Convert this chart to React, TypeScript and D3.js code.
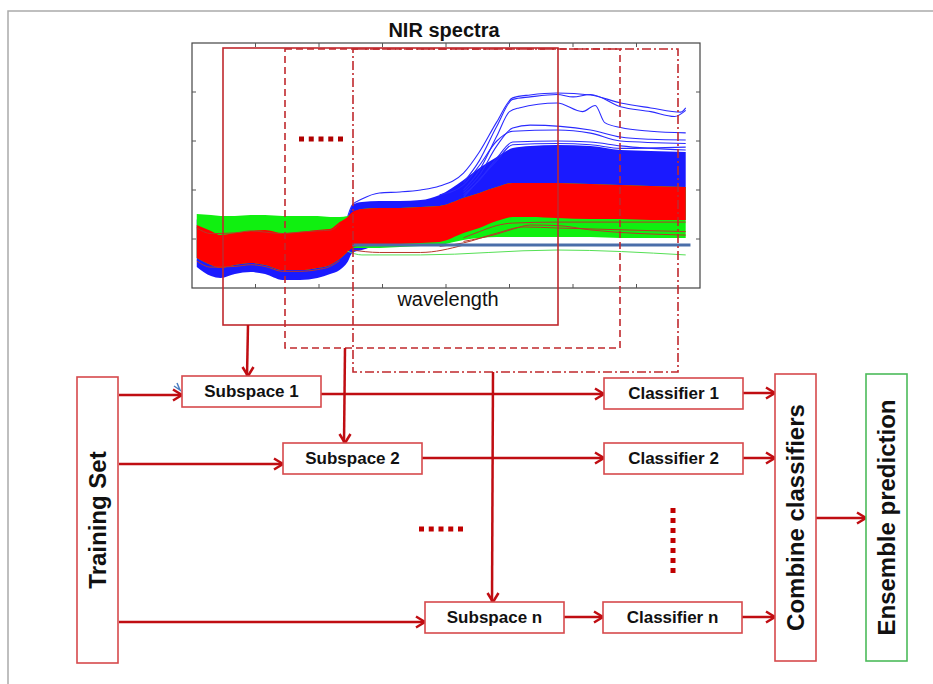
import React, { useEffect } from "react";
import * as d3 from "d3";

// NIR spectra: wavelength grid (nm) and band envelopes (absorbance)
const wavelengths = [1015, 1060, 1090, 1135, 1185, 1230, 1285, 1340, 1395, 1435, 1465, 1490, 1505, 1535,
  1590, 1655, 1720, 1780, 1855, 1905, 1960, 2010, 2065, 2150, 2255, 2350, 2445, 2555];

const redUpper = [.257, .233, .216, .224, .233, .237, .224, .229, .237, .241, .269, .290, .310, .322,
  .327, .327, .331, .335, .367, .388, .412, .429, .429, .429, .424, .420, .416, .412];
const redLower = [.122, .094, .082, .094, .102, .094, .073, .073, .082, .094, .118, .147, .163, .176,
  .176, .180, .184, .188, .224, .245, .273, .290, .290, .286, .282, .282, .278, .278];

const greenUpper = [.302, .298, .294, .294, .298, .298, .294, .294, .294, .290, .290, .294, .306, .322,
  .327, .327, .331, .335, .367, .388, .412, .429, .429, .429, .424, .420, .416, .412];
const greenLower = [.122, .094, .082, .094, .102, .094, .073, .073, .082, .094, .118, .147, .163, .163,
  .163, .167, .171, .176, .196, .204, .208, .208, .208, .208, .208, .204, .204, .204];

const blueUpper = [.28, .28, .28, .28, .28, .28, .28, .28, .28, .28, .28, .29, .339, .351,
  .355, .355, .359, .380, .441, .490, .535, .571, .580, .584, .580, .563, .559, .555];
const blueLower = [.086, .049, .041, .057, .065, .057, .033, .033, .041, .057, .073, .106, .143, .155,
  .176, .180, .184, .188, .224, .245, .273, .290, .290, .286, .282, .282, .278, .278];

// single spectra standing out of the bands: [wavelength, absorbance]
const blueCurves: [number, number][][] = [
  [[1490, .29], [1505, .339], [1535, .363], [1590, .388], [1655, .392], [1720, .400], [1780, .416], [1855, .469],
    [1905, .555], [1960, .678], [2010, .776], [2065, .788], [2150, .796], [2255, .788], [2350, .755], [2445, .735], [2540, .718], [2555, .735]],
  [[1855, .43], [1905, .52], [1960, .66], [2010, .77], [2065, .78], [2150, .79], [2200, .78], [2255, .79], [2350, .74], [2445, .72], [2520, .70], [2555, .725]],
  [[1855, .40], [1905, .48], [1960, .62], [2000, .72], [2030, .735], [2150, .755], [2230, .72], [2270, .745], [2300, .675], [2350, .655], [2445, .64], [2555, .633]],
  [[1855, .39], [1905, .46], [1960, .58], [2010, .653], [2065, .665], [2255, .645], [2350, .616], [2445, .607], [2555, .604]],
  [[1780, .38], [1855, .42], [1905, .50], [1960, .60], [2010, .64], [2150, .645], [2255, .632], [2350, .60], [2555, .59]],
  [[1855, .38], [1905, .44], [1960, .53], [2010, .596], [2150, .60], [2255, .596], [2350, .58], [2555, .563]],
  [[1855, .37], [1960, .52], [2010, .585], [2150, .59], [2255, .585], [2350, .57], [2555, .575]],
];
const redCurves: [number, number][][] = [
  [[1855, .205], [1905, .23], [1960, .255], [2010, .265], [2150, .269], [2555, .269]],
  [[1855, .19], [1960, .22], [2010, .24], [2065, .257], [2150, .255], [2255, .237], [2555, .216]],
  [[1780, .17], [1855, .184], [1960, .224], [2045, .249], [2150, .245], [2555, .23]],
  [[1505, .155], [1590, .145], [1720, .145], [1855, .175]],
  [[1015, .245], [1060, .222], [1135, .225], [1185, .233], [1230, .228], [1285, .222], [1340, .228], [1395, .233], [1435, .236], [1465, .262]],
  [[1015, .11], [1060, .085], [1135, .088], [1185, .095], [1230, .088], [1285, .068], [1340, .068], [1395, .075], [1435, .088], [1465, .112]],
];
const greenCurves: [number, number][][] = [
  [[1490, .15], [1535, .135], [1720, .135], [2150, .155], [2555, .135]],
];
const thresholdLine: [number, number][] = [[1505, .176], [2570, .176]];

const xTicks = [1200, 1400, 1600, 1800, 2000, 2200, 2400];
const yTicks = [0.2, 0.4, 0.6, 0.8];

const subspaceLabels = ["Subspace 1", "Subspace 2", "Subspace n"];
const classifierLabels = ["Classifier 1", "Classifier 2", "Classifier n"];

// layout
const W = 933, H = 684;
const plot = { left: 192, right: 700, top: 43, bottom: 288 };
const subBoxes = [{ x: 182, y: 376 }, { x: 283, y: 443 }, { x: 425, y: 602 }];
const clsBoxes = [{ x: 604, y: 378 }, { x: 604, y: 443 }, { x: 603, y: 602 }];
const BW = 139, BH = 31;
const trainBox = { x: 77, y: 377, w: 41, h: 286 };
const combineBox = { x: 775, y: 374, w: 41, h: 287 };
const ensembleBox = { x: 866, y: 374, w: 41, h: 287 };
const windows = [
  { x1: 223, y1: 48, x2: 558, y2: 325, dash: undefined, ax: 248 },
  { x1: 285, y1: 49, x2: 620, y2: 348, dash: "7,4", ax: 345 },
  { x1: 353, y1: 49, x2: 678, y2: 372, dash: "9,3,2,3", ax: 493 },
];
const trainY = [395, 464, 622];
const subY = [394, 458, 617];
const clsY = [393, 458, 617];

const FONT = "'Liberation Sans', Arial, sans-serif";
const ARROW = "#c00d12";
const BOX = "#d6494c";

function Arrow({ x1, y1, x2, y2 }: { x1: number; y1: number; x2: number; y2: number }) {
  const ang = (Math.atan2(y2 - y1, x2 - x1) * 180) / Math.PI;
  return (
    <g stroke={ARROW} strokeWidth={2.5} fill="none">
      <line x1={x1} y1={y1} x2={x2 - 1} y2={y2} />
      <path d="M-9,-5.5 L0,0 L-9,5.5" transform={`translate(${x2},${y2}) rotate(${ang})`} strokeLinejoin="miter" />
    </g>
  );
}

function Box({ x, y, w, h, label, stroke = BOX, vertical = false, size = 17 }:
  { x: number; y: number; w: number; h: number; label: string; stroke?: string; vertical?: boolean; size?: number }) {
  const cx = x + w / 2, cy = y + h / 2;
  return (
    <g>
      <rect x={x} y={y} width={w} height={h} fill="#fff" stroke={stroke} strokeWidth={1.6} />
      <text x={cx} y={cy} textAnchor="middle" dominantBaseline="central" fontFamily={FONT} fontWeight="bold"
        fontSize={size} fill="#111" transform={vertical ? `rotate(-90,${cx},${cy})` : undefined}>{label}</text>
    </g>
  );
}

export default function App() {
  useEffect(() => {
    document.body.style.margin = "0";
    document.body.style.overflow = "hidden";
  }, []);

  const x = d3.scaleLinear().domain([1000, 2600]).range([plot.left, plot.right]);
  const y = d3.scaleLinear().domain([0, 1]).range([plot.bottom, plot.top]);

  const band = (up: number[], lo: number[]) =>
    d3.area<number>().x((_, i) => x(wavelengths[i])).y0((_, i) => y(lo[i])).y1((d) => y(d))
      .curve(d3.curveMonotoneX)(up) || "";
  const line = d3.line<[number, number]>().x((d) => x(d[0])).y((d) => y(d[1])).curve(d3.curveMonotoneX);

  return (
    <svg width={W} height={H} style={{ position: "absolute", left: 0, top: 0, background: "#fff" }}>
      <defs>
        <clipPath id="plotClip">
          <rect x={plot.left} y={plot.top} width={plot.right - plot.left} height={plot.bottom - plot.top} />
        </clipPath>
      </defs>

      {/* slide frame */}
      <path d={`M${W},11 H8 V${H}`} fill="none" stroke="#aaa" strokeWidth={1.5} />

      {/* spectra */}
      <text x={444} y={37} textAnchor="middle" fontFamily={FONT} fontWeight="bold" fontSize={20} fill="#111">NIR spectra</text>
      <g clipPath="url(#plotClip)">
        <path d={band(blueUpper, blueLower)} fill="#1a1aff" />
        {blueCurves.map((c, i) => <path key={"b" + i} d={line(c) || ""} fill="none" stroke="#2a2aff" strokeWidth={1.1} />)}
        <path d={band(greenUpper, greenLower)} fill="#10f010" />
        <path d={band(redUpper, redLower)} fill="#ff0000" />
        {redCurves.map((c, i) => <path key={"r" + i} d={line(c) || ""} fill="none" stroke="#b8372a" strokeWidth={1} />)}
        {greenCurves.map((c, i) => <path key={"g" + i} d={line(c) || ""} fill="none" stroke="#55e055" strokeWidth={1} />)}
      </g>
      <rect x={plot.left} y={plot.top} width={plot.right - plot.left} height={plot.bottom - plot.top}
        fill="none" stroke="#444" strokeWidth={1.2} />
      <g stroke="#555" strokeWidth={1}>
        {xTicks.map((t) => (
          <g key={"xt" + t}>
            <line x1={x(t)} x2={x(t)} y1={plot.top} y2={plot.top + 4} />
            <line x1={x(t)} x2={x(t)} y1={plot.bottom} y2={plot.bottom - 4} />
          </g>
        ))}
        {yTicks.map((t) => (
          <g key={"yt" + t}>
            <line x1={plot.left} x2={plot.left + 4} y1={y(t)} y2={y(t)} />
            <line x1={plot.right} x2={plot.right - 4} y1={y(t)} y2={y(t)} />
          </g>
        ))}
      </g>
      <path d={line(thresholdLine) || ""} stroke="#4a6ea9" strokeWidth={3} fill="none" />
      <text x={448} y={306} textAnchor="middle" fontFamily={FONT} fontSize={20} fill="#111">wavelength</text>

      {/* random subspace windows */}
      {windows.map((w, i) => (
        <rect key={"w" + i} x={w.x1} y={w.y1} width={w.x2 - w.x1} height={w.y2 - w.y1} fill="none"
          stroke="#c0282d" strokeWidth={1.6} strokeDasharray={w.dash} />
      ))}
      <line x1={299} x2={344} y1={139} y2={139} stroke="#b00000" strokeWidth={5} strokeDasharray="5,4.75" />

      {/* arrows */}
      {windows.map((w, i) => <Arrow key={"va" + i} x1={w.ax} y1={w.y2} x2={w.ax} y2={subBoxes[i].y} />)}
      {subBoxes.map((b, i) => <Arrow key={"ta" + i} x1={trainBox.x + trainBox.w + 1} y1={trainY[i]} x2={b.x} y2={trainY[i]} />)}
      {subBoxes.map((b, i) => <Arrow key={"sa" + i} x1={b.x + BW} y1={subY[i]} x2={clsBoxes[i].x} y2={subY[i]} />)}
      {clsBoxes.map((b, i) => <Arrow key={"ca" + i} x1={b.x + BW} y1={clsY[i]} x2={combineBox.x} y2={clsY[i]} />)}
      <Arrow x1={combineBox.x + combineBox.w} y1={518} x2={ensembleBox.x} y2={518} />
      <path d="M174,386 L180,390 L177,383" fill="none" stroke="#4a7cc0" strokeWidth={1.5} />

      {/* boxes */}
      {subBoxes.map((b, i) => <Box key={"sb" + i} x={b.x} y={b.y} w={BW} h={BH} label={subspaceLabels[i]} />)}
      {clsBoxes.map((b, i) => <Box key={"cb" + i} x={b.x} y={b.y} w={BW} h={BH} label={classifierLabels[i]} />)}
      <Box {...trainBox} label="Training Set" vertical size={24} />
      <Box {...combineBox} label="Combine classifiers" vertical size={24} />
      <Box {...ensembleBox} label="Ensemble prediction" vertical size={24} stroke="#4cbb5a" />

      <line x1={419} x2={464} y1={529} y2={529} stroke="#c00000" strokeWidth={5} strokeDasharray="5,4.75" />
      <line x1={673} x2={673} y1={508} y2={573} stroke="#c00000" strokeWidth={5} strokeDasharray="5,5" />
    </svg>
  );
}
